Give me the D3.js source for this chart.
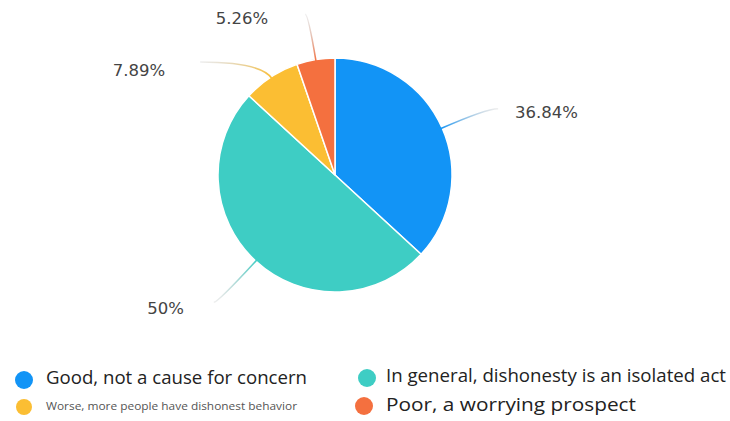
<!DOCTYPE html>
<html><head><meta charset="utf-8">
<script src="https://cdn.jsdelivr.net/npm/d3@7"></script>
<style>body{margin:0;background:#fff}svg{display:block}</style>
</head><body>
<svg id="c" width="730" height="421"></svg>
<script>
const categories = ["Good, not a cause for concern","In general, dishonesty is an isolated act","Worse, more people have dishonest behavior","Poor, a worrying prospect"];
const values = [14, 19, 3, 2];
const labels = ["36.84%","50%","7.89%","5.26%"];
const colors = ["#1294f6","#3ecdc4","#fbbe33","#f4703f"];

const svg = d3.select("#c");
const cx = 335, cy = 175, R = 117;
const g = svg.append("g").attr("transform", `translate(${cx},${cy})`);
const pie = d3.pie().sort(null).value(d => d);
const arcs = pie(values);
const arc = d3.arc().innerRadius(0).outerRadius(R);

g.selectAll("path.s").data(arcs).enter().append("path")
  .attr("class","s").attr("d", arc).attr("fill",(d,i)=>colors[i])
  .attr("stroke","#fff").attr("stroke-width",1.5);

// leader line styling offsets (elbow distance, horizontal run, text gap)
const lead = [
  {r2:R+48, run:12, anchor:"start", dx:17, dy:9},
  {r2:R+56, run:-4, anchor:"end", dx:-30, dy:12},
  {r2:R+18, run:-61, anchor:"end", dx:-35, dy:14},
  {r2:R+46, run:-3, anchor:"end", dx:-37, dy:10}
];
const defs = svg.append("defs");
arcs.forEach((d,i)=>{
  const a = (d.startAngle+d.endAngle)/2;
  const L = lead[i];
  const p0 = [Math.sin(a)*(R-2), -Math.cos(a)*(R-2)];
  const p1 = [Math.sin(a)*L.r2, -Math.cos(a)*L.r2];
  const p2 = [p1[0]+L.run, p1[1]];
  const gid = "lg"+i;
  const lg = defs.append("linearGradient").attr("id",gid)
    .attr("gradientUnits","userSpaceOnUse")
    .attr("x1",p0[0]).attr("y1",p0[1]).attr("x2",p2[0]).attr("y2",p2[1]);
  lg.append("stop").attr("offset","0%").attr("stop-color",colors[i]);
  lg.append("stop").attr("offset","100%").attr("stop-color","#bbbbbb").attr("stop-opacity",0.25);
  const path = d3.path();
  path.moveTo(p0[0],p0[1]);
  path.quadraticCurveTo(p1[0],p1[1], p2[0],p2[1]);
  g.append("path").attr("d",path.toString()).attr("fill","none")
    .attr("stroke",`url(#${gid})`).attr("stroke-width",1.6);
  g.append("text").attr("x",p2[0]+L.dx).attr("y",p2[1]+L.dy)
    .attr("text-anchor",L.anchor)
    .attr("font-family","'DejaVu Sans', sans-serif").attr("font-size",16.5)
    .attr("fill","#444").text(labels[i]);
});

// legend
const leg = [
  {x:24, y:380, tx:46, ty:384, fs:18, tl:261},
  {x:367, y:378, tx:386, ty:382, fs:18, tl:340},
  {x:24, y:407, tx:46, ty:410, fs:10, tl:251},
  {x:364, y:406, tx:386, ty:411, fs:19, tl:250}
];
categories.forEach((c,i)=>{
  const L = leg[i];
  svg.append("circle").attr("cx",L.x).attr("cy",L.y).attr("r",i===2?8:9).attr("fill",colors[i]);
  svg.append("text").attr("x",L.tx).attr("y",L.ty)
    .attr("font-family","'Open Sans', sans-serif").attr("font-size",L.fs)
    .attr("fill", i===2 ? "#555" : "#222")
    .attr("textLength",L.tl).attr("lengthAdjust","spacingAndGlyphs")
    .text(c);
});
</script>
</body></html>
